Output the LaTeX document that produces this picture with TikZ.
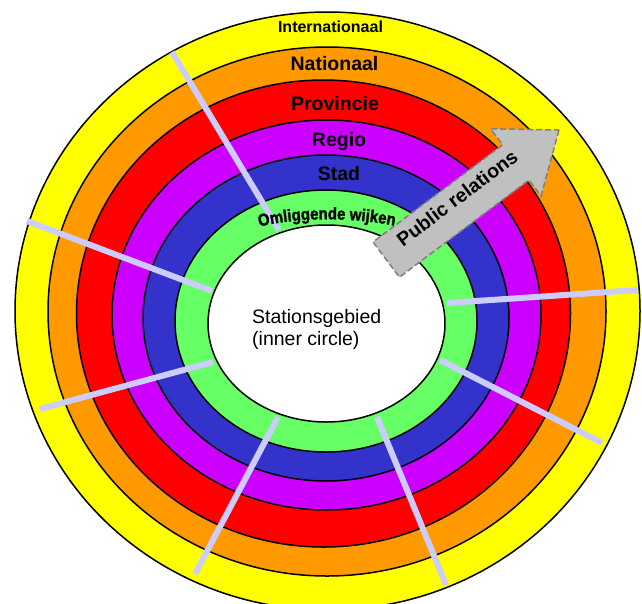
\documentclass[tikz,border=0pt]{standalone}
\usepackage{fontspec}
\setmainfont{Liberation Sans}
\newfontfamily\omfam{Liberation Sans Bold}[FakeBold=1.3,FakeStretch=0.88]
\usetikzlibrary{decorations.text}
\definecolor{ringY}{HTML}{FFFF00}
\definecolor{ringO}{HTML}{FF9900}
\definecolor{ringR}{HTML}{FF0000}
\definecolor{ringP}{HTML}{CC00FF}
\definecolor{ringB}{HTML}{3333CC}
\definecolor{ringG}{HTML}{66FF66}
\definecolor{lav}{HTML}{CCCCFF}
\definecolor{arrgray}{HTML}{C0C0C0}
\definecolor{arredge}{HTML}{808080}
\newcommand\omfont{\omfam\fontsize{17}{20}\selectfont}
\tikzset{
  ring/.style={draw=black, line width=1.5pt},
  spoke/.style={draw=lav, line width=6pt},
  lvl/.style={font=\bfseries\fontsize{19.5}{23}\selectfont, anchor=base, inner sep=0pt},
  lvlsmall/.style={font=\bfseries\fontsize{16}{19}\selectfont, anchor=base, inner sep=0pt},
  inner/.style={font=\fontsize{19.5}{23}\selectfont, anchor=base west, inner sep=0pt},
  prarrow/.style={fill=arrgray, draw=arredge, line width=1.5pt, dash pattern=on 6pt off 3pt}
}
\begin{document}
\begin{tikzpicture}[x=1pt,y=-1pt]
\useasboundingbox (0,0) rectangle (642,603);
\fill[white] (0,0) rectangle (642,603);
\clip (0,0) rectangle (642,603);
% rings, outer to inner
\path[ring, fill=ringY] (327.5,311) ellipse [x radius=312.5, y radius=299];
\path[ring, fill=ringO] (327,311.5) ellipse [x radius=279, y radius=264.5];
\path[ring, fill=ringR] (323.5,313.5) ellipse [x radius=247, y radius=233.5];
\path[ring, fill=ringP] (326.5,315) ellipse [x radius=214.5, y radius=195];
\path[ring, fill=ringB] (326,318) ellipse [x radius=183, y radius=163];
\path[ring, fill=ringG] (326,321) ellipse [x radius=151, y radius=131];
\path[ring, fill=white] (326.5,323.5) ellipse [x radius=118.5, y radius=98.5];
% spokes
\draw[spoke] (172,52) -- (279,230);
\draw[spoke] (27,221) -- (212,291);
\draw[spoke] (40,409) -- (213,362);
\draw[spoke] (278,417) -- (195,574);
\draw[spoke] (377,417) -- (446,585);
\draw[spoke] (440,360) -- (602,443);
\draw[spoke] (447,303) -- (638,290);
% public relations arrow
\draw[prarrow] (559,130) -- (541,196) -- (529,180) -- (399.4,277.2)
  -- (373,242) -- (502.6,144.8) -- (490.6,128.8) -- cycle;
\node[font=\bfseries\fontsize{19.5}{23}\selectfont, rotate=36.87, inner sep=0pt] (pr) at (457,198) {Public relations};
% level labels
\node[lvlsmall] (intl) at (330.5,32) {Internationaal};
\node[lvl] (nat) at (334.5,70) {Nationaal};
\node[lvl] (prov) at (335,110) {Provincie};
\node[lvl] (reg) at (339,146) {Regio};
\node[lvl] (stad) at (339,180) {Stad};
% curved label
\path[decorate, decoration={text along path, text align=center,
  text={|\omfont|Omliggende wijken}}]
  (258,227) .. controls (298,217) and (352,217) .. (396,226);
% inner text
\node[inner] (st1) at (252,323) {Stationsgebied};
\node[inner] (st2) at (252,345) {(inner circle)};
\end{tikzpicture}
\end{document}
